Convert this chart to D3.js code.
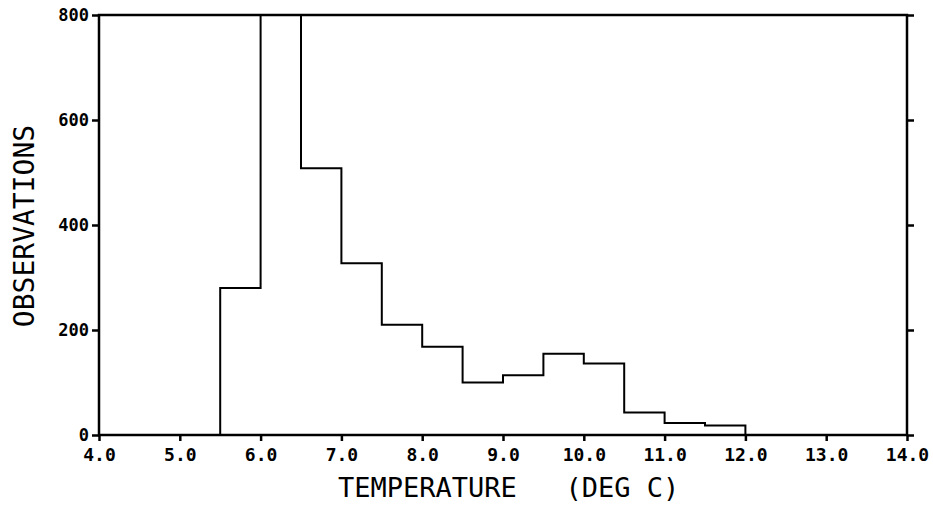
<!DOCTYPE html>
<html>
<head>
<meta charset="utf-8">
<script src="https://cdn.jsdelivr.net/npm/d3@7"></script>
<style>
  body { margin: 0; background: #fff; }
  svg { display: block; }
</style>
</head>
<body>
<svg id="chart"></svg>
<script>
// histogram bins, 0.5 deg wide
const binStart = [5.5, 6.0, 6.5, 7.0, 7.5, 8.0, 8.5, 9.0, 9.5, 10.0, 10.5, 11.0, 11.5];
const counts = [280, 800, 508, 327, 210, 168, 100, 114, 155, 136, 43, 23, 18];
const binWidth = 0.5;
const xTicks = [4, 5, 6, 7, 8, 9, 10, 11, 12, 13, 14];
const yTicks = [0, 200, 400, 600, 800];

const config = {
  width: 933,
  height: 506,
  margin: { top: 15, right: 26, bottom: 71, left: 99 }
};

const width = config.width - config.margin.left - config.margin.right;
const height = config.height - config.margin.top - config.margin.bottom;

const svg = d3.select('#chart')
  .attr('width', config.width)
  .attr('height', config.height);

const chart = svg.append('g')
  .attr('transform', `translate(${config.margin.left},${config.margin.top})`);

const xScale = d3.scaleLinear().domain([4, 14]).range([0, width]);
const yScale = d3.scaleLinear().domain([0, 800]).range([height, 0]);

// histogram drawn as one stepped outline
const pts = [[binStart[0], 0]];
binStart.forEach((b, i) => {
  pts.push([b, counts[i]]);
  pts.push([b + binWidth, counts[i]]);
});
pts.push([binStart[binStart.length - 1] + binWidth, 0]);

chart.append('path')
  .datum(pts)
  .attr('fill', 'none')
  .attr('stroke', '#000')
  .attr('stroke-width', 2)
  .attr('d', d3.line().x(d => xScale(d[0])).y(d => yScale(d[1])));

// axes
const xAxis = chart.append('g')
  .attr('transform', `translate(0,${height})`)
  .call(d3.axisBottom(xScale).tickValues(xTicks).tickFormat(d3.format('.1f')).tickSize(6).tickPadding(7));

const yAxis = chart.append('g')
  .call(d3.axisLeft(yScale).tickValues(yTicks).tickSize(7).tickPadding(3));

const yAxisR = chart.append('g')
  .attr('transform', `translate(${width},0)`)
  .call(d3.axisRight(yScale).tickValues(yTicks).tickSize(7).tickFormat(''));

const xAxisTop = chart.append('g')
  .call(d3.axisTop(xScale).tickValues([]).tickSizeOuter(0));

[xAxis, yAxis, yAxisR, xAxisTop].forEach(a => {
  a.selectAll('path, line').attr('stroke', '#000').attr('stroke-width', 2.5);
  a.select('.domain').attr('d', null);
});

// frame
chart.append('rect')
  .attr('x', 0).attr('y', 0)
  .attr('width', width).attr('height', height)
  .attr('fill', 'none')
  .attr('stroke', '#000')
  .attr('stroke-width', 2.5);

xAxis.selectAll('text')
  .attr('font-family', 'DejaVu Sans Mono')
  .attr('font-weight', 'bold')
  .attr('font-size', '18px')
  .attr('fill', '#000');

yAxis.selectAll('text')
  .attr('font-family', 'DejaVu Sans Mono')
  .attr('font-weight', 'bold')
  .attr('font-size', '17px')
  .attr('fill', '#000');

// axis titles
svg.append('text')
  .attr('x', 338)
  .attr('y', 497)
  .attr('font-family', 'DejaVu Sans Mono')
  .attr('font-size', '27px')
  .attr('xml:space', 'preserve')
  .style('white-space', 'pre')
  .text('TEMPERATURE   (DEG C)');

svg.append('text')
  .attr('transform', 'translate(34,226) rotate(-90)')
  .attr('text-anchor', 'middle')
  .attr('font-family', 'DejaVu Sans Mono')
  .attr('font-size', '28px')
  .text('OBSERVATIONS');
</script>
</body>
</html>
